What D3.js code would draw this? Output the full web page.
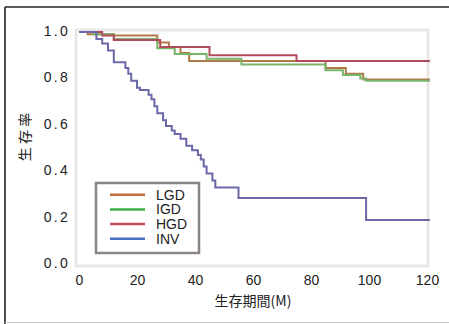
<!DOCTYPE html>
<html><head><meta charset="utf-8">
<script src="https://cdn.jsdelivr.net/npm/d3@7"></script>
<style>html,body{margin:0;padding:0;background:#fff;}svg{display:block;}</style>
</head><body>
<script>
const xTicks = [0, 20, 40, 60, 80, 100, 120];
const yTicks = [0.0, 0.2, 0.4, 0.6, 0.8, 1.0];
const seriesNames = ["LGD", "IGD", "HGD", "INV"];
const legendColors = ["#c0703a", "#3fae45", "#c84860", "#4a70c0"];
const curveColors = ["#b07a48", "#78b46c", "#b24c5c", "#6a68a8"];
const endTime = 121;
// [time, survival] step points (survival after each drop)
const lgd = [[0,1.0],[3,0.99],[12,0.985],[27,0.955],[31,0.935],[35,0.91],[38,0.875],[85,0.845],[92,0.82],[98,0.795]];
const igd = [[0,1.0],[5,0.99],[12,0.97],[27,0.93],[33,0.905],[44,0.885],[56,0.86],[85,0.835],[91,0.815],[97,0.80],[99,0.79]];
const hgd = [[0,1.0],[8,0.985],[12,0.965],[28,0.935],[45,0.9],[75,0.875]];
const inv = [[0,1.0],[6,0.97],[8,0.95],[10,0.92],[12,0.87],[16,0.845],[17,0.82],[18,0.79],[20,0.76],[21,0.75],[24,0.73],[25,0.71],[26,0.68],[27,0.65],[29,0.62],[30,0.595],[32,0.575],[33,0.56],[35,0.54],[37,0.51],[39,0.49],[41,0.47],[42,0.45],[43,0.42],[44,0.39],[46,0.36],[47,0.33],[55,0.285],[99,0.19]];
const seriesData = [lgd, igd, hgd, inv];

const W = 449, H = 324;
const svg = d3.select("body").append("svg").attr("width", W).attr("height", H);

// outer frame
svg.append("line").attr("x1",5).attr("x2",W).attr("y1",7).attr("y2",7).attr("stroke","#222").attr("stroke-width",1.6);
svg.append("line").attr("x1",5).attr("x2",5).attr("y1",7).attr("y2",H).attr("stroke","#222").attr("stroke-width",1.6);
svg.append("line").attr("x1",5).attr("x2",W).attr("y1",322.5).attr("y2",322.5).attr("stroke","#c8c8c8").attr("stroke-width",1);

const x = d3.scaleLinear().domain([0,120]).range([79,427]);
const y = d3.scaleLinear().domain([0,1]).range([264,32]);

// faint plot frame
svg.append("rect").attr("x",76).attr("y",30).attr("width",352).attr("height",236)
  .attr("fill","none").attr("stroke","#ebe6e6").attr("stroke-width",3);

// axes (labels only)
const xAxis = svg.append("g").attr("transform","translate(0,265)")
  .call(d3.axisBottom(x).tickValues(xTicks).tickSize(0).tickPadding(10).tickFormat(d3.format("d")));
xAxis.select(".domain").remove();
xAxis.selectAll("text").attr("font-family","Liberation Sans, Arial, sans-serif").attr("font-size",14).attr("fill","#222");

const yAxis = svg.append("g").attr("transform","translate(70,-1)")
  .call(d3.axisLeft(y).tickValues(yTicks).tickSize(0).tickPadding(0).tickFormat(d3.format(".1f")));
yAxis.select(".domain").remove();
yAxis.selectAll("text").attr("font-family","Liberation Sans, Arial, sans-serif").attr("font-size",14)
  .attr("fill","#222").attr("letter-spacing","2.3px");

// titles
svg.append("text").attr("x",253).attr("y",306).attr("text-anchor","middle")
  .attr("font-family","Noto Sans CJK JP, sans-serif").attr("font-size",14).attr("fill","#222").text("生存期間(M)");
svg.append("text").attr("transform","translate(30,137) rotate(-90)").attr("text-anchor","middle")
  .attr("font-family","Noto Sans CJK JP, sans-serif").attr("font-size",14).attr("fill","#222").text("生 存 率");

// curves
const line = d3.line().x(d=>x(d[0])).y(d=>y(d[1])).curve(d3.curveStepAfter);
seriesData.forEach((s,i)=>{
  const pts = s.concat([[endTime, s[s.length-1][1]]]);
  svg.append("path").attr("d", line(pts)).attr("fill","none")
    .attr("stroke", curveColors[i]).attr("stroke-width", 2);
});

// legend
const lg = svg.append("g");
lg.append("rect").attr("x",96).attr("y",183).attr("width",103).attr("height",70)
  .attr("fill","#fff").attr("stroke","#8a8484").attr("stroke-width",2.5);
seriesNames.forEach((n,i)=>{
  const yy = 194.7 + i*14.7;
  lg.append("line").attr("x1",110).attr("x2",145).attr("y1",yy).attr("y2",yy)
    .attr("stroke",legendColors[i]).attr("stroke-width",2.5);
  lg.append("text").attr("x",156).attr("y",yy).attr("dy","0.36em")
    .attr("font-family","Liberation Sans, Arial, sans-serif").attr("font-size",14).attr("fill","#222").text(n);
});
</script>
</body></html>
